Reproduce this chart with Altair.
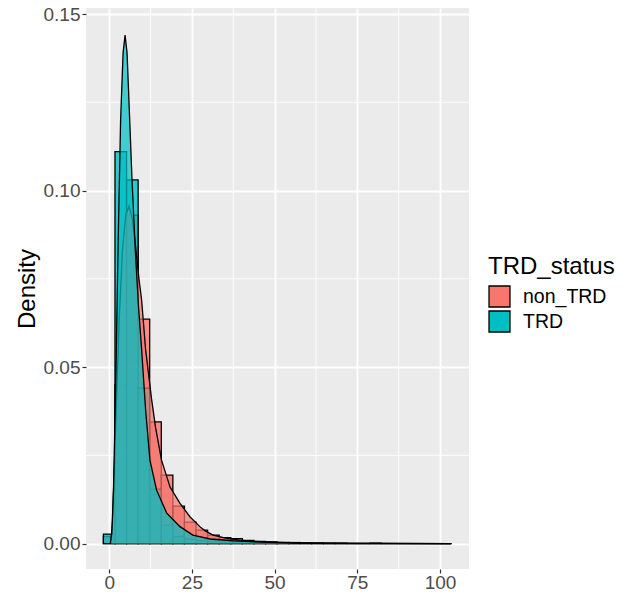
import altair as alt
import pandas as pd

groups = ["non_TRD", "TRD"]
colors = ["#F8766D", "#00BFC4"]

# histogram (density scale), binwidth 3.5
bin_left = [-1.75, 1.75, 5.25, 8.75, 12.25, 15.75, 19.25, 22.75, 26.25, 29.75,
            33.25, 36.75, 40.25, 43.75, 47.25, 50.75, 54.25, 57.75, 61.25, 64.75,
            68.25, 71.75, 75.25, 78.75, 82.25, 85.75, 89.25, 92.75, 96.25, 99.75]
bin_right = [1.75, 5.25, 8.75, 12.25, 15.75, 19.25, 22.75, 26.25, 29.75, 33.25,
             36.75, 40.25, 43.75, 47.25, 50.75, 54.25, 57.75, 61.25, 64.75, 68.25,
             71.75, 75.25, 78.75, 82.25, 85.75, 89.25, 92.75, 96.25, 99.75, 103.25]
hist_non_trd = [0.002, 0.045, 0.093, 0.0636, 0.0345, 0.0194, 0.0106, 0.0061, 0.0038, 0.0024,
                0.0017, 0.0014, 0.0009, 0.0006, 0.0005, 0.0003, 0.0003, 0.0002, 0.0001, 0.0001,
                0.0001, 0.0, 0.0, 0.0001, 0.0, 0.0, 0.0, 0.0, 0.0, 0.0]
hist_trd = [0.0027, 0.111, 0.103, 0.044, 0.0154, 0.0052, 0.002, 0.0012, 0.0008, 0.0005,
            0.0004, 0.0003, 0.0002, 0.0002, 0.0001, 0.0001, 0.0, 0.0, 0.0001, 0.0,
            0.0, 0.0, 0.0, 0.0, 0.0, 0.0, 0.0, 0.0, 0.0, 0.0]

# density curves
dens_non_trd_x = [0.5, 1.0, 2.0, 3.0, 4.0, 5.0, 6.0, 7.0, 8.0, 9.0, 9.8, 11.0, 12.8, 14.0,
                  15.8, 18.4, 21.4, 24.4, 27.4, 29.0, 31.4, 35.5, 39.5, 42.5, 50.0, 57.7,
                  70.0, 85.0, 103.5]
dens_non_trd_y = [0.0, 0.006, 0.035, 0.063, 0.083, 0.093, 0.0956, 0.092, 0.084, 0.075, 0.069,
                  0.055, 0.041, 0.033, 0.0237, 0.016, 0.0114, 0.0076, 0.0048, 0.0036, 0.0024,
                  0.0015, 0.001, 0.0007, 0.0004, 0.0002, 0.0001, 0.00005, 0.0]
dens_trd_x = [0.3, 0.8, 1.3, 2.05, 2.7, 3.45, 4.2, 4.8, 5.4, 6.2, 6.9, 7.9, 8.8, 9.8, 11.0,
              12.3, 14.3, 17.4, 21.4, 25.3, 30.5, 37.4, 45.6, 57.7, 103.5]
dens_trd_y = [0.0, 0.003, 0.015, 0.049, 0.085, 0.12, 0.139, 0.144, 0.139, 0.12, 0.103, 0.083,
              0.068, 0.055, 0.038, 0.0237, 0.0152, 0.0086, 0.0048, 0.0024, 0.0013, 0.0008,
              0.0004, 0.0001, 0.0]

x_ticks = [0, 25, 50, 75, 100]
y_ticks = [0.0, 0.05, 0.10, 0.15]
x_minor = [12.5, 37.5, 62.5, 87.5]
y_minor = [0.025, 0.075, 0.125]

hist_rows = []
for g, vals in zip(groups, [hist_non_trd, hist_trd]):
    for a, b, v in zip(bin_left, bin_right, vals):
        hist_rows.append({"status": g, "x0": a, "x1": b, "d": v})
hist_df = pd.DataFrame(hist_rows)

dens_non = pd.DataFrame({"status": "non_TRD", "x": dens_non_trd_x, "d": dens_non_trd_y})
dens_trd = pd.DataFrame({"status": "TRD", "x": dens_trd_x, "d": dens_trd_y})

FONT = "Liberation Sans"
xscale = alt.Scale(domain=[-7.01, 108.76], nice=False, zero=False)
yscale = alt.Scale(domain=[-0.0072, 0.1517], nice=False, zero=False)
cscale = alt.Scale(domain=groups, range=colors)

xaxis = alt.Axis(values=x_ticks, title=None, grid=True, labelPadding=0)
yaxis = alt.Axis(values=y_ticks, format=".2f", title="Density", grid=True,
                 titleFontSize=24, titleFont=FONT, titleColor="black",
                 titleFontWeight="normal", titlePadding=4, labelPadding=2)

minor_x = alt.Chart(pd.DataFrame({"v": x_minor})).mark_rule(
    color="white", strokeWidth=0.9).encode(x=alt.X("v:Q", scale=xscale, axis=xaxis))
minor_y = alt.Chart(pd.DataFrame({"v": y_minor})).mark_rule(
    color="white", strokeWidth=0.9).encode(y=alt.Y("v:Q", scale=yscale, axis=yaxis))

bars = alt.Chart(hist_df).mark_rect(
    fillOpacity=0.8, stroke="black", strokeWidth=1.3).encode(
    x=alt.X("x0:Q", scale=xscale, axis=xaxis),
    x2="x1:Q",
    y=alt.Y("d:Q", scale=yscale, axis=yaxis),
    y2=alt.datum(0),
    fill=alt.Fill("status:N", scale=cscale, legend=alt.Legend(
        title="TRD_status", orient="none", legendX=402, legendY=247,
        symbolType="square", symbolSize=440, symbolStrokeColor="black",
        symbolStrokeWidth=1.3, symbolOpacity=1,
        titleFontSize=24, titleFont=FONT, titleFontWeight="normal", titleColor="black",
        labelFontSize=19.5, labelFont=FONT, labelColor="black",
        rowPadding=-2, titlePadding=6, labelOffset=12)),
)

def dens_layers(df):
    area = alt.Chart(df).mark_area(fillOpacity=0.72).encode(
        x=alt.X("x:Q", scale=xscale, axis=xaxis),
        y=alt.Y("d:Q", scale=yscale, axis=yaxis),
        y2=alt.datum(0),
        fill=alt.Fill("status:N", scale=cscale, legend=None),
    )
    line = alt.Chart(df).mark_line(color="black", strokeWidth=1.3).encode(
        x=alt.X("x:Q", scale=xscale, axis=xaxis),
        y=alt.Y("d:Q", scale=yscale, axis=yaxis),
    )
    return [area, line]

layers = [minor_x, minor_y, bars] + dens_layers(dens_non) + dens_layers(dens_trd)

chart = alt.layer(*layers).properties(
    width=383, height=561,
    autosize=alt.AutoSizeParams(type="none"),
    padding={"left": 86, "top": 8, "right": 154, "bottom": 26},
).configure_view(fill="#EBEBEB", strokeWidth=0).configure_axis(
    domain=False, gridColor="white", gridWidth=1.8, tickColor="#333333",
    tickSize=4, tickWidth=1.2, labelFont=FONT, labelFontSize=19, labelColor="#4D4D4D",
)

chart.save("out.html", embed_options={"renderer": "svg", "actions": False})
